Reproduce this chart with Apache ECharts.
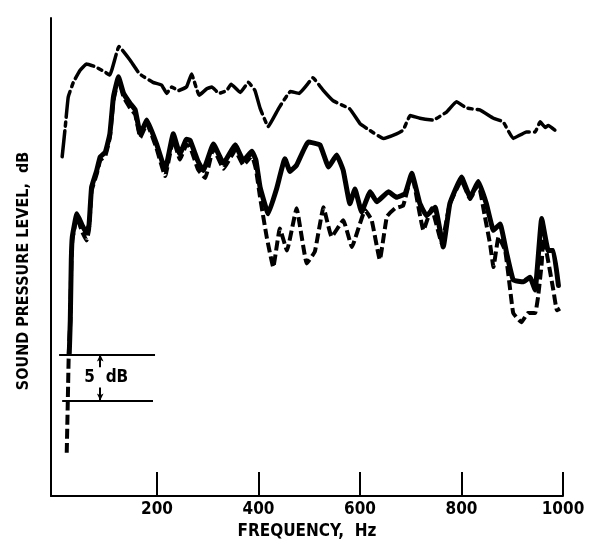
<!DOCTYPE html>
<html>
<head>
<meta charset="utf-8">
<title>Sound pressure level</title>
<script src="https://cdn.jsdelivr.net/npm/echarts@6/dist/echarts.min.js"></script>
<style>
  html, body { margin: 0; padding: 0; background: #fff; }
  #main { width: 593px; height: 548px; }
</style>
</head>
<body>
<div id="main"></div>
<script>
// frequency ticks (Hz)
var tickValues = [200, 400, 600, 800, 1000];

// upper curve (dash-dot)
var upperFreq  = [13, 19, 25, 35, 48, 61, 78, 95, 107, 125, 147, 166, 192, 209, 219, 229, 242, 258, 268, 283, 298, 308, 322, 337, 346, 364, 380, 393, 403, 419, 440, 463, 480, 495, 507, 528, 547, 580, 600, 613, 646, 672, 685, 699, 718, 744, 771, 790, 810, 836, 863, 882, 902, 928, 945, 955, 965, 971, 984];
var upperLevel = [36.9, 40.1, 43.4, 45.0, 46.3, 47.0, 46.7, 46.2, 45.8, 48.9, 47.4, 45.9, 45.0, 44.7, 43.8, 44.5, 44.1, 44.5, 45.9, 43.6, 44.3, 44.5, 43.8, 44.1, 44.8, 43.9, 45.0, 44.1, 42.2, 40.2, 42.2, 44.0, 43.8, 44.7, 45.5, 44.1, 43.0, 42.1, 40.5, 40.0, 38.9, 39.4, 39.8, 41.4, 41.1, 40.9, 41.8, 42.9, 42.2, 42.0, 41.1, 40.7, 38.9, 39.6, 39.6, 40.7, 40.1, 40.3, 39.8];

// middle curve (solid)
var solidFreq  = [27, 29, 31, 33, 42, 52, 61, 66, 71, 81, 88, 98, 107, 114, 124, 134, 147, 157, 167, 180, 199, 216, 232, 245, 258, 265, 280, 291, 311, 331, 354, 370, 387, 395, 403, 419, 436, 452, 462, 475, 498, 521, 538, 554, 567, 580, 590, 603, 620, 633, 656, 672, 689, 702, 718, 731, 748, 764, 777, 800, 817, 833, 849, 863, 876, 889, 902, 922, 935, 945, 958, 971, 981, 991];
var solidLevel = [15.5, 19.1, 25.7, 28.2, 30.7, 29.5, 28.6, 29.5, 33.6, 35.4, 36.9, 37.4, 39.4, 43.4, 45.6, 43.8, 42.7, 42.0, 39.4, 40.9, 38.3, 35.5, 39.4, 37.2, 38.8, 38.7, 36.5, 35.4, 38.3, 36.2, 38.2, 36.5, 37.5, 36.5, 33.6, 30.7, 33.5, 36.7, 35.3, 36.0, 38.5, 38.2, 35.8, 37.1, 35.4, 31.8, 33.4, 30.9, 33.1, 32.0, 33.1, 32.5, 32.9, 35.1, 31.8, 30.5, 31.4, 27.1, 31.8, 34.7, 32.5, 34.2, 31.8, 28.9, 29.6, 26.4, 23.5, 23.3, 23.8, 22.4, 30.2, 26.7, 26.7, 22.9];

// lower curve (dashed)
var lowerFreq  = [22, 24, 26, 29, 31, 33, 42, 52, 61, 66, 71, 81, 88, 98, 107, 114, 124, 134, 147, 157, 167, 180, 199, 216, 232, 245, 258, 265, 281, 295, 311, 331, 354, 370, 387, 395, 403, 416, 429, 442, 456, 475, 495, 511, 528, 544, 567, 584, 610, 623, 639, 653, 669, 685, 702, 725, 741, 761, 777, 800, 817, 833, 846, 856, 863, 873, 886, 896, 902, 918, 931, 945, 951, 958, 961, 968, 981, 988, 994];
var lowerLevel = [4.7, 10.0, 15.5, 19.0, 25.5, 27.8, 30.3, 28.8, 27.8, 29.0, 33.2, 35.0, 36.5, 37.0, 39.0, 43.0, 45.3, 43.4, 42.2, 41.5, 39.0, 40.5, 37.8, 34.8, 38.8, 36.6, 38.2, 38.0, 35.5, 34.6, 37.8, 35.6, 37.6, 36.0, 37.0, 35.5, 32.5, 28.2, 24.9, 29.1, 26.7, 31.3, 25.3, 26.6, 31.4, 28.2, 30.0, 27.1, 31.1, 30.0, 25.7, 30.4, 31.3, 31.6, 35.0, 28.9, 31.3, 27.5, 31.8, 34.3, 32.3, 34.0, 30.4, 27.5, 24.9, 28.2, 26.7, 22.4, 19.9, 18.9, 19.9, 19.9, 21.7, 25.3, 28.0, 26.4, 22.4, 20.2, 20.4];

// 5 dB scale bar
var scaleTopFreq = [7, 196];
var scaleBottomFreq = [13, 192];
var scaleLevels = [15.4, 10.4];
var scaleArrowFreq = 88;
var scaleLabelFreq = 100;

function pairs(f, l) {
  return f.map(function (v, i) { return [v, l[i]]; });
}

var font = '"Liberation Sans Narrow", "DejaVu Sans Condensed", "Liberation Sans", sans-serif';
var chartDom = document.getElementById('main');
var myChart = echarts.init(chartDom);

var mid = (scaleLevels[0] + scaleLevels[1]) / 2;

var option = {
  animation: false,
  backgroundColor: '#fff',
  grid: { left: 51, right: 30, top: 18, bottom: 52 },
  xAxis: {
    type: 'value',
    min: -9,
    max: 1000,
    name: 'FREQUENCY,  Hz',
    nameLocation: 'middle',
    nameGap: 26,
    nameTextStyle: { color: '#000', fontFamily: font, fontWeight: 'bold', fontSize: 17 },
    axisLine: { show: true, onZero: false, lineStyle: { color: '#000', width: 2 } },
    axisTick: { show: true, inside: true, length: 24, customValues: tickValues, lineStyle: { color: '#000', width: 2 } },
    axisLabel: {
      customValues: tickValues,
      formatter: function (v) { return String(v); },
      color: '#000', fontFamily: font, fontWeight: 'bold', fontSize: 17, margin: 5
    },
    splitLine: { show: false }
  },
  yAxis: {
    type: 'value',
    min: 0,
    max: 52,
    axisLine: { show: true, onZero: false, lineStyle: { color: '#000', width: 2 } },
    axisTick: { show: false },
    axisLabel: { show: false },
    splitLine: { show: false }
  },
  graphic: [{
    type: 'text',
    x: 24,
    y: 271,
    rotation: Math.PI / 2,
    style: {
      text: 'SOUND PRESSURE LEVEL,  dB',
      fill: '#000',
      font: 'bold 16px ' + font,
      align: 'center',
      verticalAlign: 'middle'
    }
  }],
  series: [
    {
      name: 'upper',
      type: 'line',
      data: pairs(upperFreq, upperLevel),
      showSymbol: false,
      smooth: 0.1,
      lineStyle: { color: '#000', width: 3.5, type: [26, 5, 4, 5], cap: 'round', join: 'round' }
    },
    {
      name: 'lower',
      type: 'line',
      data: pairs(lowerFreq, lowerLevel),
      showSymbol: false,
      smooth: 0.1,
      lineStyle: { color: '#000', width: 4, type: [10, 4], join: 'round' }
    },
    {
      name: 'solid',
      type: 'line',
      data: pairs(solidFreq, solidLevel),
      showSymbol: false,
      smooth: 0.1,
      lineStyle: { color: '#000', width: 5, cap: 'round', join: 'round' },
      markLine: {
        silent: true,
        symbol: 'none',
        label: { show: false },
        lineStyle: { color: '#000', width: 2, type: 'solid' },
        data: [
          [{ coord: [scaleTopFreq[0], scaleLevels[0]] }, { coord: [scaleTopFreq[1], scaleLevels[0]] }],
          [{ coord: [scaleBottomFreq[0], scaleLevels[1]] }, { coord: [scaleBottomFreq[1], scaleLevels[1]] }],
          [{ coord: [scaleArrowFreq, mid + 1.1], symbol: 'none' }, { coord: [scaleArrowFreq, scaleLevels[0]], symbol: 'arrow', symbolSize: [5, 7] }],
          [{ coord: [scaleArrowFreq, mid - 1.1], symbol: 'none' }, { coord: [scaleArrowFreq, scaleLevels[1]], symbol: 'arrow', symbolSize: [5, 7] }]
        ]
      }
    },
    {
      name: 'scale label',
      type: 'scatter',
      data: [[scaleLabelFreq, mid]],
      symbolSize: 1,
      silent: true,
      itemStyle: { color: '#fff', opacity: 1 },
      label: {
        show: true,
        position: 'inside',
        formatter: '5  dB',
        color: '#000',
        opacity: 1,
        textBorderWidth: 0,
        fontFamily: font,
        fontWeight: 'bold',
        fontSize: 17
      }
    }
  ]
};

option && myChart.setOption(option);
</script>
</body>
</html>
